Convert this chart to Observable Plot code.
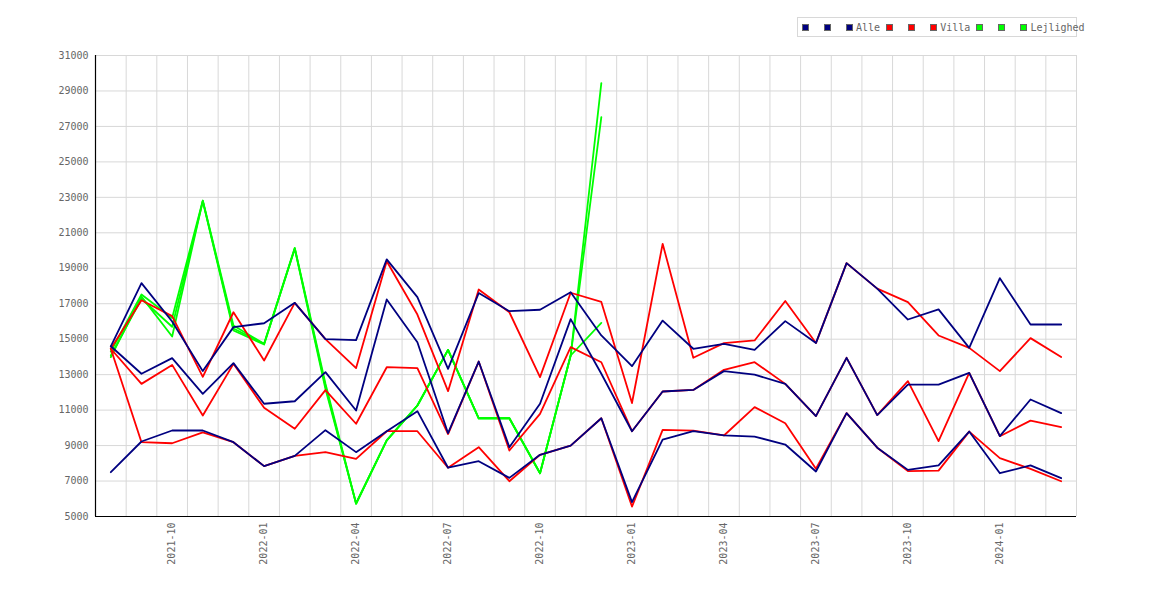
<!DOCTYPE html>
<html>
<head>
<meta charset="utf-8">
<script src="https://cdn.jsdelivr.net/npm/d3@7"></script>
<script src="https://cdn.jsdelivr.net/npm/@observablehq/plot@0.6"></script>
<style>
  body { margin: 0; background: #fff; }
  #wrap { position: relative; width: 1170px; height: 600px; }
  #legend { position: absolute; left: 797px; top: 17px; width: 280px; height: 20px;
    border: 1px solid #d8d8d8; background: #fff; display: flex; align-items: center;
    padding-left: 4px; box-sizing: border-box; font-family: "DejaVu Sans Mono", monospace;
    font-size: 10px; color: #666; white-space: pre; overflow: visible; }
  .sw { display: inline-block; width: 7px; height: 7px; box-sizing: border-box;
    border: 1px solid #666; margin-right: 3px; }
  .it { display: inline-flex; align-items: center; margin-right: 6px; }
</style>
</head>
<body>
<div id="wrap"><div id="chart"></div><div id="legend"></div></div>
<script>
const months = ["2021-08","2021-09","2021-10","2021-11","2021-12","2022-01","2022-02","2022-03","2022-04","2022-05","2022-06","2022-07","2022-08","2022-09","2022-10","2022-11","2022-12","2023-01","2023-02","2023-03","2023-04","2023-05","2023-06","2023-07","2023-08","2023-09","2023-10","2023-11","2023-12","2024-01","2024-02","2024-03"];
const xTickLabels = ["2021-10","2022-01","2022-04","2022-07","2022-10","2023-01","2023-04","2023-07","2023-10","2024-01"];
const yTicks = [5000,7000,9000,11000,13000,15000,17000,19000,21000,23000,25000,27000,29000,31000];

const alleHigh = [14600,18160,16000,13200,15680,15900,17050,15000,14950,19500,17370,13330,17600,16580,16660,17650,15210,13480,16050,14460,14740,14400,16020,14780,19290,17850,16110,16680,14510,18440,15830,15830];
const alleMid  = [14600,13050,13930,11920,13650,11360,11500,13140,10980,17240,14830,9700,13740,8910,11360,16130,13050,9810,12050,12140,13200,13000,12480,10660,13950,10720,12440,12440,13100,9530,11600,10830];
const alleLow  = [7500,9230,9850,9850,9190,7840,8420,9870,8630,9810,10940,7750,8120,7180,8480,9000,10540,5810,9330,9810,9570,9510,9060,7540,10830,8880,7630,7880,9790,7440,7880,7160];

const villaHigh = [14460,17200,16300,12880,16520,13800,17050,15000,13370,19400,16390,12070,17800,16520,12860,17620,17100,11400,20380,13950,14780,14930,17150,14780,19290,17850,17090,15210,14510,13200,15060,13990];
const villaMid  = [14460,12480,13550,10700,13610,11130,9950,12130,10230,13420,13370,9650,13740,8720,10790,14550,13700,9810,12050,12140,13270,13700,12480,10660,13950,10720,12630,9250,13100,9530,10410,10040];
const villaLow  = [14460,9190,9130,9750,9190,7840,8420,8630,8250,9810,9810,7750,8910,6990,8480,9000,10540,5560,9890,9840,9570,11170,10260,7690,10830,8880,7560,7590,9790,8290,7690,6990];

const lejHigh = [14300,17520,16200,22820,15770,14740,20150,12500,5720,9290,11260,14400,10540,10540,7440,14080,29440];
const lejMid  = [14080,17280,15700,22780,15490,14700,20100,12200,5750,9290,11260,14400,10540,10540,7440,14080,27520];
const lejLow  = [13990,17400,15150,22800,15600,14740,20120,12350,5720,9290,11260,14400,10540,10540,7440,14080,15920];

const NAVY = "#000080", RED = "#ff0000", GREEN = "#00ff00";
const series = [
  {name: "", color: NAVY, values: alleHigh},
  {name: "", color: NAVY, values: alleMid},
  {name: "Alle", color: NAVY, values: alleLow},
  {name: "", color: RED, values: villaHigh},
  {name: "", color: RED, values: villaMid},
  {name: "Villa", color: RED, values: villaLow},
  {name: "", color: GREEN, values: lejHigh},
  {name: "", color: GREEN, values: lejMid},
  {name: "Lejlighed", color: GREEN, values: lejLow}
];

const rows = [];
series.forEach((s, si) => {
  months.forEach((m, i) => {
    const v = s.values[i];
    rows.push({s: si, i, v: v == null ? NaN : v});
  });
});

const drawOrder = [6,7,8,3,4,5,0,1,2];
const monthGrid = months.map((m, i) => i - 0.5).concat([months.length - 0.5]);
const xTicks = xTickLabels.map(l => months.indexOf(l));

const lineMarks = drawOrder.map(si => Plot.line(rows.filter(r => r.s === si), {
  x: "i", y: "v", stroke: series[si].color, strokeWidth: 1.8, curve: "linear"
}));

const chart = Plot.plot({
  width: 1170,
  height: 600,
  marginLeft: 95,
  marginRight: 94,
  marginTop: 55,
  marginBottom: 84,
  style: {fontFamily: "DejaVu Sans Mono, monospace", fontSize: "10px", background: "#fff"},
  x: {type: "linear", domain: [-0.5, months.length - 0.5]},
  y: {domain: [5000, 31000]},
  marks: [
    Plot.ruleX(monthGrid, {stroke: "#d8d8d8", strokeWidth: 1}),
    Plot.ruleY(yTicks, {stroke: "#d8d8d8", strokeWidth: 1}),
    Plot.axisY({ticks: yTicks, tickSize: 0, tickPadding: 7, tickFormat: d => String(d), fill: "#666", label: null}),
    Plot.axisX({ticks: xTicks, tickSize: 0, tickPadding: 6, tickRotate: -90, tickFormat: i => months[i], fill: "#666", label: null}),
    ...lineMarks,
    Plot.ruleX([-0.5], {stroke: "#000", strokeWidth: 1.2}),
    Plot.ruleY([5000], {stroke: "#000", strokeWidth: 1.2})
  ]
});
document.getElementById("chart").appendChild(chart);

const legend = document.getElementById("legend");
series.forEach(s => {
  const it = document.createElement("span");
  it.className = "it";
  const sw = document.createElement("span");
  sw.className = "sw";
  sw.style.background = s.color;
  it.appendChild(sw);
  const t = document.createElement("span");
  t.textContent = s.name === "" ? " " : s.name;
  it.appendChild(t);
  legend.appendChild(it);
});
</script>
</body>
</html>
